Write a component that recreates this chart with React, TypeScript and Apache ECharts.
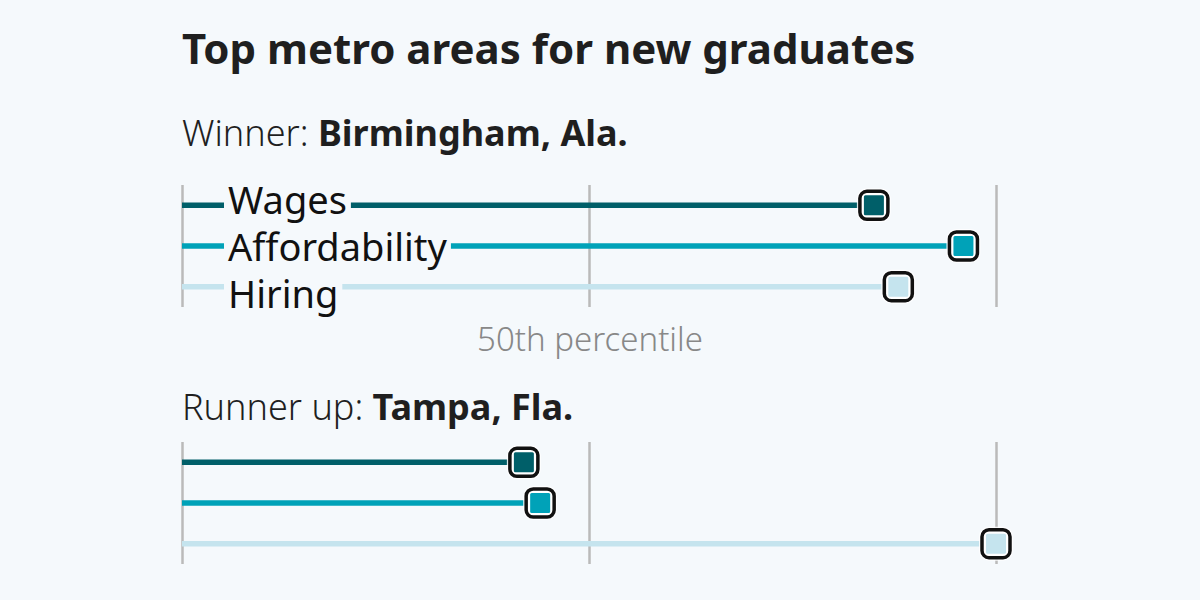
import React, { useEffect, useRef } from "react";
import * as echarts from "echarts";

const categories = ["Wages", "Affordability", "Hiring"];
const winnerValues = [85, 96, 88];
const runnerUpValues = [42, 44, 100];
const tickValues = [0, 50, 100];
const winnerName = "Birmingham, Ala.";
const runnerUpName = "Tampa, Fla.";
const titleText = "Top metro areas for new graduates";
const midLabel = "50th percentile";

const BG = "#f5f9fc";
const COLORS = ["#005f69", "#00a2b8", "#c5e4ee"];
const FONT = "'Noto Sans', 'Open Sans', sans-serif";

function makeRenderItem(showLabels: boolean) {
  return (params: any, api: any) => {
    const v = api.value(0);
    const c = api.value(1);
    const start = api.coord([0, c]);
    const end = api.coord([v, c]);
    const color = COLORS[c];
    const children: any[] = [
      {
        type: "line",
        shape: { x1: start[0], y1: start[1], x2: end[0], y2: end[1] },
        style: { stroke: color, lineWidth: 5.5 },
      },
    ];
    if (showLabels) {
      const mid = api.coord([0, 1])[1];
      children.push({
        type: "text",
        x: start[0] + 42,
        y: mid + (c - 1) * 47,
        style: {
          text: categories[c],
          fill: "#111",
          font: `38px ${FONT}`,
          verticalAlign: "middle",
          align: "left",
          backgroundColor: BG,
          padding: [0, 4, 0, 4],
        },
      });
    }
    const cx = end[0];
    const cy = end[1];
    children.push(
      {
        type: "rect",
        shape: { x: cx - 17, y: cy - 17, width: 34, height: 34, r: 10 },
        style: { fill: "#ffffff", opacity: 0.85 },
      },
      {
        type: "rect",
        shape: { x: cx - 14, y: cy - 14, width: 28, height: 28, r: 7 },
        style: { fill: "#ffffff", stroke: "#111", lineWidth: 3.5 },
      },
      {
        type: "rect",
        shape: { x: cx - 10, y: cy - 10, width: 20, height: 20, r: 1.5 },
        style: { fill: color },
      }
    );
    return { type: "group", children };
  };
}

export default function App() {
  const ref = useRef<HTMLDivElement>(null);
  useEffect(() => {
    document.body.style.margin = "0";
    const chart = echarts.init(ref.current!, null, { renderer: "svg" });
    const xAxisBase = {
      type: "value",
      min: tickValues[0],
      max: tickValues[tickValues.length - 1],
      interval: tickValues[1] - tickValues[0],
      axisLabel: { show: false },
      axisLine: { show: false },
      axisTick: { show: false },
      splitLine: { show: true, lineStyle: { color: "#bababa", width: 2.5 } },
    };
    const yAxisBase = {
      type: "category",
      data: categories,
      inverse: true,
      show: false,
    };
    const richSub = {
      a: { fontFamily: FONT, fontWeight: 300, fontSize: 36, color: "#1f1f1f" },
      b: { fontFamily: FONT, fontWeight: "bold", fontSize: 36, color: "#1f1f1f" },
    };
    chart.setOption({
      animation: false,
      backgroundColor: BG,
      title: [
        {
          text: titleText,
          left: 182,
          top: 26,
          padding: 0,
          textStyle: { fontFamily: FONT, fontWeight: "bold", fontSize: 42, color: "#1f1f1f" },
        },
        {
          text: `{a|Winner: }{b|${winnerName}}`,
          left: 182,
          top: 114,
          padding: 0,
          textStyle: { rich: richSub },
        },
        {
          text: `{a|Runner up: }{b|${runnerUpName}}`,
          left: 182,
          top: 388,
          padding: 0,
          textStyle: { rich: richSub },
        },
        {
          text: midLabel,
          left: 590,
          textAlign: "center",
          top: 322,
          padding: 0,
          textStyle: { fontFamily: FONT, fontWeight: 300, fontSize: 33, color: "#888" },
        },
      ],
      grid: [
        { left: 182, right: 204, top: 185, height: 122 },
        { left: 182, right: 204, top: 442, height: 122 },
      ],
      xAxis: [
        { ...xAxisBase, gridIndex: 0 },
        { ...xAxisBase, gridIndex: 1 },
      ],
      yAxis: [
        { ...yAxisBase, gridIndex: 0 },
        { ...yAxisBase, gridIndex: 1 },
      ],
      series: [
        {
          type: "custom",
          xAxisIndex: 0,
          yAxisIndex: 0,
          renderItem: makeRenderItem(true),
          data: winnerValues.map((v, i) => [v, i]),
          clip: false,
        },
        {
          type: "custom",
          xAxisIndex: 1,
          yAxisIndex: 1,
          renderItem: makeRenderItem(false),
          data: runnerUpValues.map((v, i) => [v, i]),
          clip: false,
        },
      ],
    });
    return () => chart.dispose();
  }, []);
  return <div ref={ref} style={{ width: 1200, height: 600 }} />;
}
